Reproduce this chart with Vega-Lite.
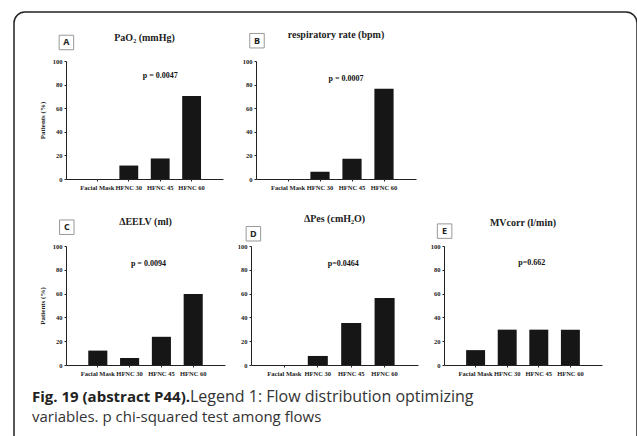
{
  "$schema": "https://vega.github.io/schema/vega-lite/v6.json",
  "padding": {"left": 13, "top": 11, "right": 0, "bottom": 0},
  "background": "white",
  "config": {
    "view": {"stroke": null},
    "axis": {"labelFont": "Liberation Serif", "labelFontWeight": "bold", "labelFontSize": 6.5, "labelColor": "#222", "domainColor": "#222", "tickColor": "#222", "grid": false, "titleFont": "Liberation Serif", "titleFontWeight": "bold", "titleFontSize": 7, "titleColor": "#222", "labelOverlap": false},
    "title": {"font": "Liberation Serif", "fontWeight": "bold", "fontSize": 10, "color": "#222", "frame": "group"},
    "text": {"font": "Open Sans", "fontSize": 15, "align": "left", "baseline": "alphabetic", "color": "#333"}
  },
  "datasets": {
    "bars": [
      {"panel": "A", "flow": "Facial Mask", "pct": 0},
      {"panel": "A", "flow": "HFNC 30", "pct": 11.4},
      {"panel": "A", "flow": "HFNC 45", "pct": 17.4},
      {"panel": "A", "flow": "HFNC 60", "pct": 70.3},
      {"panel": "B", "flow": "Facial Mask", "pct": 0},
      {"panel": "B", "flow": "HFNC 30", "pct": 6.1},
      {"panel": "B", "flow": "HFNC 45", "pct": 17.2},
      {"panel": "B", "flow": "HFNC 60", "pct": 76.4},
      {"panel": "C", "flow": "Facial Mask", "pct": 12.1},
      {"panel": "C", "flow": "HFNC 30", "pct": 5.9},
      {"panel": "C", "flow": "HFNC 45", "pct": 23.7},
      {"panel": "C", "flow": "HFNC 60", "pct": 59.7},
      {"panel": "D", "flow": "Facial Mask", "pct": 0},
      {"panel": "D", "flow": "HFNC 30", "pct": 7.6},
      {"panel": "D", "flow": "HFNC 45", "pct": 35.3},
      {"panel": "D", "flow": "HFNC 60", "pct": 56.3},
      {"panel": "E", "flow": "Facial Mask", "pct": 12.5},
      {"panel": "E", "flow": "HFNC 30", "pct": 29.7},
      {"panel": "E", "flow": "HFNC 45", "pct": 29.7},
      {"panel": "E", "flow": "HFNC 60", "pct": 29.7}
    ],
    "notes": [
      {"panel": "A", "p": "p = 0.0047"},
      {"panel": "B", "p": "p = 0.0007"},
      {"panel": "C", "p": "p = 0.0094"},
      {"panel": "D", "p": "p=0.0464"},
      {"panel": "E", "p": "p=0.662"}
    ],
    "caption": [
      {"part": "bold", "text": "Fig. 19 (abstract P44)."},
      {"part": "rest1", "text": "Legend 1: Flow distribution optimizing"},
      {"part": "line2", "text": "variables. p chi-squared test among flows"}
    ]
  },
  "concat": [
    {
      "width": 623,
      "height": 450,
      "view": {"stroke": "#222", "strokeWidth": 1.5, "cornerRadius": 11, "fill": "white"},
      "data": {"name": "caption"},
      "layer": [
        {"transform": [{"filter": "datum.part == 'bold'"}], "mark": {"type": "text", "fontWeight": "bold", "x": 18, "y": 390, "color": "#222"}, "encoding": {"text": {"field": "text"}}},
        {"transform": [{"filter": "datum.part == 'rest1'"}], "mark": {"type": "text", "x": 176, "y": 390, "fontSize": 16}, "encoding": {"text": {"field": "text"}}},
        {"transform": [{"filter": "datum.part == 'line2'"}], "mark": {"type": "text", "x": 18, "y": 410}, "encoding": {"text": {"field": "text"}}}
      ]
    },
    {
      "vconcat": [
        {"width": 1, "height": 1, "data": {"values": []}, "mark": "point"},
        {
          "vconcat": [
            {
              "hconcat": [
                {
                  "width": 157, "height": 118,
                  "title": {"text": "PaO₂ (mmHg)", "offset": -10},
                  "resolve": {"scale": {"y": "independent"}, "axis": {"y": "independent"}},
                  "layer": [
                    {"data": {"name": "bars"}, "transform": [{"filter": "datum.panel == 'A'"}],
                     "mark": {"type": "bar", "color": "#161616"},
                     "encoding": {
                       "x": {"field": "flow", "type": "nominal", "scale": {"domain": ["Facial Mask", "HFNC 30", "HFNC 45", "HFNC 60"], "paddingInner": 0.4, "paddingOuter": 0.7}, "axis": {"title": null, "labelAngle": 0, "tickSize": 2, "labelPadding": 3}},
                       "y": {"field": "pct", "type": "quantitative", "scale": {"domain": [0, 100]}, "axis": {"title": "Patients (%)", "values": [0, 20, 40, 60, 80, 100], "labelOverlap": false, "tickSize": 2, "labelPadding": 2, "titlePadding": 7}}
                     }},
                    {"data": {"name": "notes"}, "transform": [{"filter": "datum.panel == 'A'"}],
                     "mark": {"type": "text", "font": "Liberation Serif", "fontWeight": "bold", "fontSize": 8, "color": "#111", "align": "center", "baseline": "middle"},
                     "encoding": {"x": {"datum": "HFNC 45"}, "y": {"datum": 87, "scale": {"domain": [0, 100]}, "axis": null}, "text": {"field": "p"}}},
                    {"data": {"name": "notes"}, "transform": [{"filter": "datum.panel == 'A'"}],
                     "mark": {"type": "square", "filled": false, "stroke": "#999", "strokeWidth": 1, "size": 210, "xOffset": -31, "opacity": 1},
                     "encoding": {"x": {"datum": "Facial Mask"}, "y": {"datum": 115.7, "scale": {"domain": [0, 100]}, "axis": null}}},
                    {"data": {"name": "notes"}, "transform": [{"filter": "datum.panel == 'A'"}],
                     "mark": {"type": "text", "font": "Open Sans", "fontWeight": "bold", "fontSize": 9, "xOffset": -31, "color": "#222", "align": "center", "baseline": "middle"},
                     "encoding": {"x": {"datum": "Facial Mask"}, "y": {"datum": 115.7, "scale": {"domain": [0, 100]}, "axis": null}, "text": {"field": "panel"}}}
                  ]
                },
                {
                  "width": 160, "height": 118,
                  "title": {"text": "respiratory rate (bpm)", "offset": -9},
                  "resolve": {"scale": {"y": "independent"}, "axis": {"y": "independent"}},
                  "layer": [
                    {"data": {"name": "bars"}, "transform": [{"filter": "datum.panel == 'B'"}],
                     "mark": {"type": "bar", "color": "#161616"},
                     "encoding": {
                       "x": {"field": "flow", "type": "nominal", "scale": {"domain": ["Facial Mask", "HFNC 30", "HFNC 45", "HFNC 60"], "paddingInner": 0.4, "paddingOuter": 0.7}, "axis": {"title": null, "labelAngle": 0, "tickSize": 2, "labelPadding": 3}},
                       "y": {"field": "pct", "type": "quantitative", "scale": {"domain": [0, 100]}, "axis": {"title": null, "values": [0, 20, 40, 60, 80, 100], "labelOverlap": false, "tickSize": 2, "labelPadding": 2}}
                     }},
                    {"data": {"name": "notes"}, "transform": [{"filter": "datum.panel == 'B'"}],
                     "mark": {"type": "text", "font": "Liberation Serif", "fontWeight": "bold", "fontSize": 8, "color": "#111", "align": "center", "baseline": "middle", "xOffset": -6},
                     "encoding": {"x": {"datum": "HFNC 45"}, "y": {"datum": 85, "scale": {"domain": [0, 100]}, "axis": null}, "text": {"field": "p"}}},
                    {"data": {"name": "notes"}, "transform": [{"filter": "datum.panel == 'B'"}],
                     "mark": {"type": "square", "filled": false, "stroke": "#999", "strokeWidth": 1, "size": 210, "xOffset": -31, "opacity": 1},
                     "encoding": {"x": {"datum": "Facial Mask"}, "y": {"datum": 117.2, "scale": {"domain": [0, 100]}, "axis": null}}},
                    {"data": {"name": "notes"}, "transform": [{"filter": "datum.panel == 'B'"}],
                     "mark": {"type": "text", "font": "Open Sans", "fontWeight": "bold", "fontSize": 9, "xOffset": -31, "color": "#222", "align": "center", "baseline": "middle"},
                     "encoding": {"x": {"datum": "Facial Mask"}, "y": {"datum": 117.2, "scale": {"domain": [0, 100]}, "axis": null}, "text": {"field": "panel"}}}
                  ]
                }
              ],
              "spacing": 19
            },
            {
              "hconcat": [
                {
                  "width": 159, "height": 119,
                  "title": {"text": "ΔEELV (ml)", "offset": -9},
                  "resolve": {"scale": {"y": "independent"}, "axis": {"y": "independent"}},
                  "layer": [
                    {"data": {"name": "bars"}, "transform": [{"filter": "datum.panel == 'C'"}],
                     "mark": {"type": "bar", "color": "#161616"},
                     "encoding": {
                       "x": {"field": "flow", "type": "nominal", "scale": {"domain": ["Facial Mask", "HFNC 30", "HFNC 45", "HFNC 60"], "paddingInner": 0.4, "paddingOuter": 0.7}, "axis": {"title": null, "labelAngle": 0, "tickSize": 2, "labelPadding": 3}},
                       "y": {"field": "pct", "type": "quantitative", "scale": {"domain": [0, 100]}, "axis": {"title": "Patients (%)", "values": [0, 20, 40, 60, 80, 100], "labelOverlap": false, "tickSize": 2, "labelPadding": 2, "titlePadding": 7}}
                     }},
                    {"data": {"name": "notes"}, "transform": [{"filter": "datum.panel == 'C'"}],
                     "mark": {"type": "text", "font": "Liberation Serif", "fontWeight": "bold", "fontSize": 8, "color": "#111", "align": "center", "baseline": "middle", "xOffset": -13},
                     "encoding": {"x": {"datum": "HFNC 45"}, "y": {"datum": 85, "scale": {"domain": [0, 100]}, "axis": null}, "text": {"field": "p"}}},
                    {"data": {"name": "notes"}, "transform": [{"filter": "datum.panel == 'C'"}],
                     "mark": {"type": "square", "filled": false, "stroke": "#999", "strokeWidth": 1, "size": 210, "xOffset": -31, "opacity": 1},
                     "encoding": {"x": {"datum": "Facial Mask"}, "y": {"datum": 115.8, "scale": {"domain": [0, 100]}, "axis": null}}},
                    {"data": {"name": "notes"}, "transform": [{"filter": "datum.panel == 'C'"}],
                     "mark": {"type": "text", "font": "Open Sans", "fontWeight": "bold", "fontSize": 9, "xOffset": -31, "color": "#222", "align": "center", "baseline": "middle"},
                     "encoding": {"x": {"datum": "Facial Mask"}, "y": {"datum": 115.8, "scale": {"domain": [0, 100]}, "axis": null}, "text": {"field": "panel"}}}
                  ]
                },
                {
                  "width": 167, "height": 119,
                  "title": {"text": "ΔPes (cmH₂O)", "offset": 0},
                  "resolve": {"scale": {"y": "independent"}, "axis": {"y": "independent"}},
                  "layer": [
                    {"data": {"name": "bars"}, "transform": [{"filter": "datum.panel == 'D'"}],
                     "mark": {"type": "bar", "color": "#161616"},
                     "encoding": {
                       "x": {"field": "flow", "type": "nominal", "scale": {"domain": ["Facial Mask", "HFNC 30", "HFNC 45", "HFNC 60"], "paddingInner": 0.4, "paddingOuter": 0.7}, "axis": {"title": null, "labelAngle": 0, "tickSize": 2, "labelPadding": 3}},
                       "y": {"field": "pct", "type": "quantitative", "scale": {"domain": [0, 100]}, "axis": {"title": null, "values": [0, 20, 40, 60, 80, 100], "labelOverlap": false, "tickSize": 2, "labelPadding": 2}}
                     }},
                    {"data": {"name": "notes"}, "transform": [{"filter": "datum.panel == 'D'"}],
                     "mark": {"type": "text", "font": "Liberation Serif", "fontWeight": "bold", "fontSize": 8, "color": "#111", "align": "center", "baseline": "middle", "xOffset": -8},
                     "encoding": {"x": {"datum": "HFNC 45"}, "y": {"datum": 85, "scale": {"domain": [0, 100]}, "axis": null}, "text": {"field": "p"}}},
                    {"data": {"name": "notes"}, "transform": [{"filter": "datum.panel == 'D'"}],
                     "mark": {"type": "square", "filled": false, "stroke": "#999", "strokeWidth": 1, "size": 210, "xOffset": -31, "opacity": 1},
                     "encoding": {"x": {"datum": "Facial Mask"}, "y": {"datum": 110.3, "scale": {"domain": [0, 100]}, "axis": null}}},
                    {"data": {"name": "notes"}, "transform": [{"filter": "datum.panel == 'D'"}],
                     "mark": {"type": "text", "font": "Open Sans", "fontWeight": "bold", "fontSize": 9, "xOffset": -31, "color": "#222", "align": "center", "baseline": "middle"},
                     "encoding": {"x": {"datum": "Facial Mask"}, "y": {"datum": 110.3, "scale": {"domain": [0, 100]}, "axis": null}, "text": {"field": "panel"}}}
                  ]
                },
                {
                  "width": 158, "height": 119,
                  "title": {"text": "MVcorr (l/min)", "offset": -6},
                  "resolve": {"scale": {"y": "independent"}, "axis": {"y": "independent"}},
                  "layer": [
                    {"data": {"name": "bars"}, "transform": [{"filter": "datum.panel == 'E'"}],
                     "mark": {"type": "bar", "color": "#161616"},
                     "encoding": {
                       "x": {"field": "flow", "type": "nominal", "scale": {"domain": ["Facial Mask", "HFNC 30", "HFNC 45", "HFNC 60"], "paddingInner": 0.4, "paddingOuter": 0.7}, "axis": {"title": null, "labelAngle": 0, "tickSize": 2, "labelPadding": 3}},
                       "y": {"field": "pct", "type": "quantitative", "scale": {"domain": [0, 100]}, "axis": {"title": null, "values": [0, 20, 40, 60, 80, 100], "labelOverlap": false, "tickSize": 2, "labelPadding": 2}}
                     }},
                    {"data": {"name": "notes"}, "transform": [{"filter": "datum.panel == 'E'"}],
                     "mark": {"type": "text", "font": "Liberation Serif", "fontWeight": "bold", "fontSize": 8, "color": "#111", "align": "center", "baseline": "middle", "xOffset": -7},
                     "encoding": {"x": {"datum": "HFNC 45"}, "y": {"datum": 85.5, "scale": {"domain": [0, 100]}, "axis": null}, "text": {"field": "p"}}},
                    {"data": {"name": "notes"}, "transform": [{"filter": "datum.panel == 'E'"}],
                     "mark": {"type": "square", "filled": false, "stroke": "#999", "strokeWidth": 1, "size": 210, "xOffset": -31, "opacity": 1},
                     "encoding": {"x": {"datum": "Facial Mask"}, "y": {"datum": 112.5, "scale": {"domain": [0, 100]}, "axis": null}}},
                    {"data": {"name": "notes"}, "transform": [{"filter": "datum.panel == 'E'"}],
                     "mark": {"type": "text", "font": "Open Sans", "fontWeight": "bold", "fontSize": 9, "xOffset": -31, "color": "#222", "align": "center", "baseline": "middle"},
                     "encoding": {"x": {"datum": "Facial Mask"}, "y": {"datum": 112.5, "scale": {"domain": [0, 100]}, "axis": null}, "text": {"field": "panel"}}}
                  ]
                }
              ],
              "spacing": 12
            }
          ],
          "spacing": 23
        }
      ],
      "spacing": 17
    }
  ],
  "columns": 2,
  "align": "none",
  "spacing": -600
}
